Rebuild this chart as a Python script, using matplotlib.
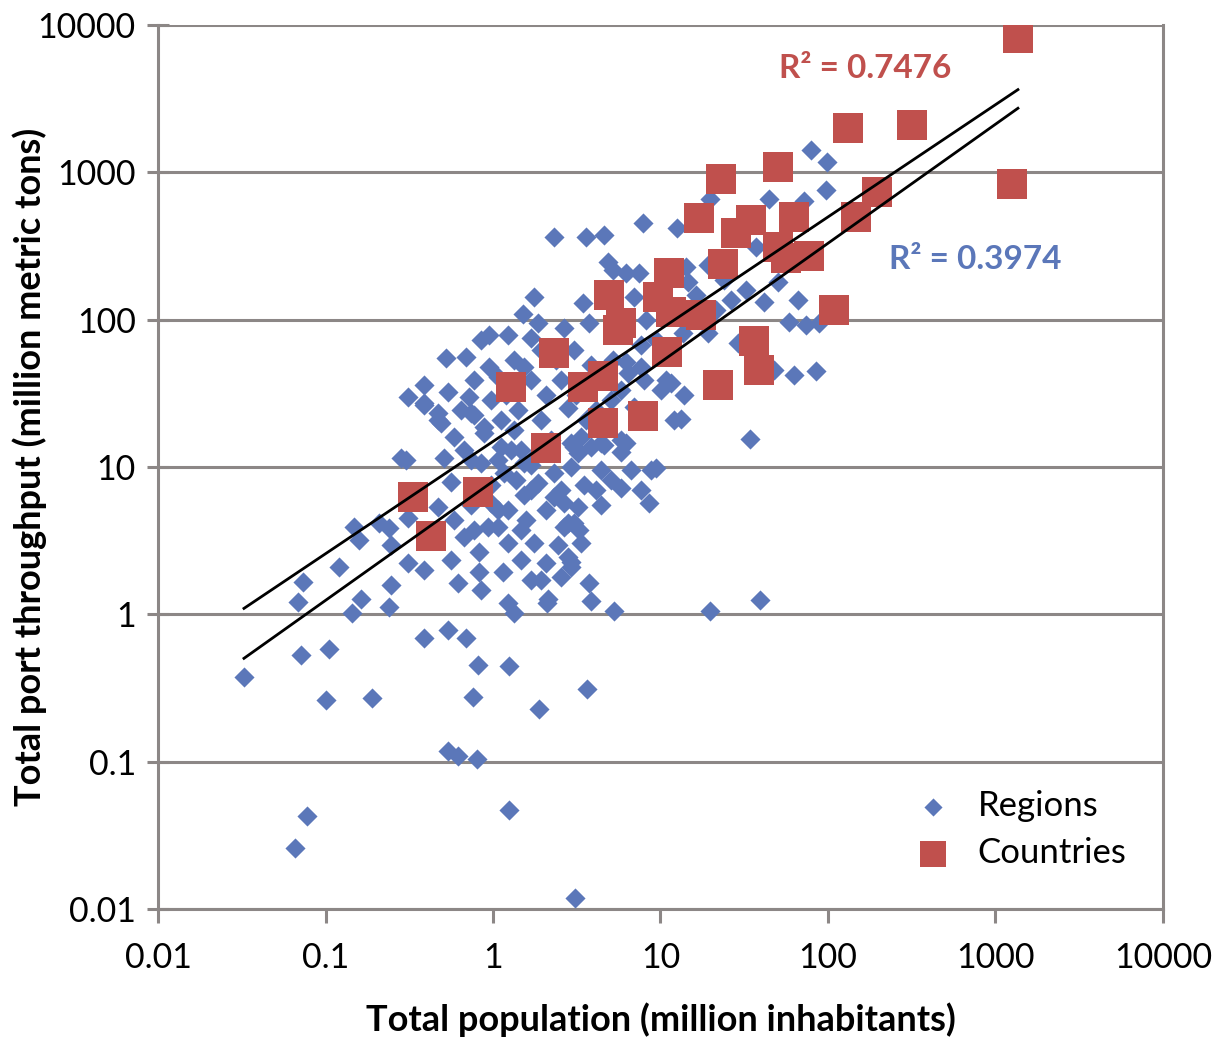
import matplotlib
matplotlib.use('Agg')
import matplotlib.pyplot as plt
import numpy as np
from matplotlib.ticker import FixedLocator, FuncFormatter, NullLocator

# Regions (blue diamonds): population (million) vs port throughput (million t)
regions_x = [
    0.0326, 0.0714, 0.105, 0.101, 0.190, 0.760, 0.0685, 0.0734, 0.120, 0.144,
    0.163, 0.148, 0.158, 0.209, 0.239, 0.246, 0.246, 0.239, 0.311, 0.311,
    0.388, 0.469, 0.303, 0.388, 0.539, 0.690, 0.814, 1.246, 1.883, 3.64,
    0.539, 0.618, 0.803, 1.246, 0.0776, 0.0658, 3.09, 0.561, 0.510, 0.585,
    0.469, 0.388, 0.561, 0.618, 0.825, 0.825, 0.671, 0.585, 0.739, 0.848,
    0.884, 0.739, 1.071, 0.973, 1.229, 1.335, 2.10, 3.85, 5.28, 9.40,
    5.81, 4.41, 8.54, 3.49, 2.65, 2.80, 3.26, 2.80, 2.92, 2.55,
    3.74, 19.8, 39.3, 34.2, 13.3, 62.7, 84.8, 47.6, 29.0, 11.6,
    13.8, 10.07, 6.22, 4.60, 3.22, 2.92, 3.85, 7.97, 6.40, 7.65,
    0.770, 0.934, 1.147, 1.229, 1.469, 1.071, 1.757, 2.07, 1.934, 2.13,
    2.92, 2.44, 3.35, 2.65, 3.05, 3.22, 2.31, 2.55, 1.686, 1.857,
    1.531, 1.229, 1.163, 1.531, 1.071, 2.31, 3.05, 4.41, 5.81, 8.77,
    2.31, 3.59, 4.60, 7.86, 4.86, 6.22, 7.44, 1.757, 1.51, 3.45,
    3.74, 1.857, 0.848, 0.946, 1.229, 1.686, 2.65, 0.524, 0.690, 0.946,
    1.335, 1.531, 3.05, 0.388, 0.311, 0.539, 0.388, 0.469, 0.719, 0.770,
    1.071, 1.686, 2.55, 0.489, 0.770, 0.884, 1.116, 1.410, 1.335, 1.116,
    1.469, 0.282, 0.671, 2.80, 3.35, 5.81, 6.95, 5.81, 12.0, 2.92,
    12.6, 19.8, 5.20, 14.2, 19.2, 14.6, 6.95, 16.3, 79.2, 98.6,
    97.3, 44.5, 71.9, 37.2, 50.3, 41.5, 66.2, 58.5, 73.9, 88.3,
    19.2, 13.6, 23.9, 6.22, 10.8, 4.12, 5.06, 3.59, 4.41, 5.20,
    3.85, 3.13, 32.4, 26.4, 21.4, 8.19, 9.40, 7.65, 1.934, 2.22,
    1.806, 2.07, 1.574, 1.372, 4.41, 5.06, 6.67, 7.65, 4.12, 0.644,
    0.973, 1.196, 2.07, 2.38, 1.934, 1.28, 1.686, 0.973, 0.739, 1.469,
    1.686, 0.848, 4.41,
]
regions_y = [
    0.374, 0.527, 0.579, 0.261, 0.269, 0.273, 1.22, 1.65, 2.08, 1.02,
    1.28, 3.90, 3.18, 4.15, 3.84, 2.94, 1.57, 1.12, 2.22, 4.48,
    1.99, 5.33, 11.1, 0.687, 0.779, 0.687, 0.451, 0.444, 0.226, 0.310,
    0.119, 0.109, 0.104, 0.0467, 0.0425, 0.0258, 0.0118, 7.87, 11.5, 15.9,
    20.8, 26.2, 2.33, 1.62, 1.93, 2.64, 3.33, 4.35, 11.1, 10.6,
    16.9, 23.2, 3.90, 5.67, 1.19, 1.02, 1.19, 1.24, 1.05, 9.80,
    7.17, 5.50, 5.67, 7.51, 5.67, 4.15, 3.72, 2.44, 2.08, 1.78,
    1.62, 1.06, 1.26, 15.4, 21.1, 42.0, 44.6, 45.3, 69.2, 37.0,
    30.7, 33.2, 14.5, 14.0, 12.4, 14.5, 13.6, 38.8, 43.3, 47.5,
    3.72, 3.90, 1.93, 3.03, 3.72, 5.08, 3.03, 2.22, 1.70, 1.28,
    2.25, 2.94, 3.03, 3.90, 4.15, 5.33, 6.23, 6.95, 6.95, 7.75,
    6.43, 5.08, 9.06, 10.6, 11.1, 9.06, 13.6, 14.5, 12.6, 9.50,
    363, 363, 374, 451, 245, 207, 207, 142, 110, 129,
    94.6, 94.6, 72.4, 78.4, 78.4, 74.8, 87.4, 54.7, 55.6, 47.5,
    53.0, 47.5, 62.0, 35.9, 29.7, 32.1, 27.1, 23.2, 29.7, 38.8,
    40.6, 38.8, 38.8, 19.8, 22.4, 18.6, 20.8, 24.3, 17.7, 13.6,
    13.0, 11.5, 13.0, 25.0, 15.9, 15.2, 25.4, 33.2, 20.8, 9.95,
    418, 657, 216, 227, 234, 179, 142, 146, 1413, 1171,
    756, 657, 637, 310, 179, 131, 135, 96.0, 91.6, 94.6,
    80.9, 80.9, 185, 51.4, 38.8, 24.3, 28.4, 20.8, 17.7, 53.0,
    49.0, 30.7, 158, 135, 116, 99.0, 72.4, 67.0, 20.8, 15.2,
    12.0, 5.08, 4.35, 8.12, 9.50, 8.12, 9.50, 6.95, 6.95, 24.3,
    28.4, 30.7, 30.7, 53.0, 62.0, 13.0, 10.3, 7.51, 5.50, 2.33,
    1.70, 1.46, 38.8,
]

# Countries (red squares)
countries_x = [1362, 132, 317, 50.3, 23.0, 196, 1255, 17.0, 34.7, 28.2,
               62.7, 147, 50.3, 77.0, 23.6, 11.2, 4.93, 9.66, 5.57, 11.6,
               17.5, 109, 36.2, 10.9, 38.7, 22.0, 2.31, 4.54, 3.45, 1.28,
               4.54, 7.86, 2.07, 0.333, 0.814, 0.426, 5.81, 56.1]
countries_y = [8130, 1990, 2090, 1083, 898, 732, 830, 488, 473, 386,
               496, 496, 310, 269, 238, 207, 146, 142, 84.7, 112,
               107, 116, 71.3, 60.1, 45.3, 35.9, 59.1, 41.3, 34.8, 34.8,
               19.8, 22.1, 13.4, 6.23, 6.73, 3.39, 94.6, 261]

# power-law trendlines y = a * x^b
trend_a = [14.9, 7.99]
trend_b = [0.762, 0.808]
r2_labels = ['R\u00b2 = 0.7476', 'R\u00b2 = 0.3974']
decades = [0.01, 0.1, 1, 10, 100, 1000, 10000]

blue = '#5B77B9'
red = '#C0504D'
grey = '#8C8786'

plt.rcParams['font.family'] = ['Lato', 'DejaVu Sans']

fig = plt.figure(figsize=(12.23, 10.38), dpi=100)
ax = fig.add_axes([0.1292, 0.1243, 0.8217, 0.8516])

ax.scatter(regions_x, regions_y, marker='D', s=105, color=blue, linewidths=0,
           label='Regions', zorder=3)
ax.scatter(countries_x, countries_y, marker='s', s=440, color=red, linewidths=0,
           label='Countries', zorder=4)

x_lo = min(min(regions_x), min(countries_x))
x_hi = max(max(regions_x), max(countries_x))
xs = np.logspace(np.log10(x_lo), np.log10(x_hi), 50)
for a, b in zip(trend_a, trend_b):
    ax.plot(xs, a * xs ** b, color='black', lw=2.0, zorder=5)

ax.text(51, 5090, r2_labels[0], color=red, fontsize=24, fontweight='bold',
        va='center', ha='left')
ax.text(231, 257, r2_labels[1], color=blue, fontsize=24, fontweight='bold',
        va='center', ha='left')

ax.set_xscale('log')
ax.set_yscale('log')
ax.set_xlim(0.01, 10000)
ax.set_ylim(0.01, 10000)
fmt = FuncFormatter(lambda v, p: '%g' % v)
ax.xaxis.set_major_locator(FixedLocator(decades))
ax.yaxis.set_major_locator(FixedLocator(decades))
ax.xaxis.set_major_formatter(fmt)
ax.yaxis.set_major_formatter(fmt)
ax.xaxis.set_minor_locator(NullLocator())
ax.yaxis.set_minor_locator(NullLocator())

ax.grid(axis='y', color=grey, lw=2.2)
ax.set_axisbelow(True)
for side in ['left', 'right', 'bottom']:
    ax.spines[side].set_color(grey)
    ax.spines[side].set_linewidth(2.2)
ax.spines['top'].set_visible(False)
ax.tick_params(axis='x', direction='out', length=10, width=2.2, color=grey,
               labelsize=24.5, pad=14)
ax.tick_params(axis='y', direction='inout', length=16, width=2.2, color=grey,
               labelsize=24.5, pad=8)

ax.set_xlabel('Total population (million inhabitants)', fontsize=26,
              fontweight='bold', labelpad=20)
ax.set_ylabel('Total port throughput (million metric tons)', fontsize=26,
              fontweight='bold')
ax.yaxis.set_label_coords(-0.11, 0.5)

ax.legend(loc='lower right', bbox_to_anchor=(0.995, 0.01), frameon=False,
          fontsize=25, handletextpad=0.3, labelspacing=0.42, markerscale=0.9)

fig.savefig('out.png', dpi=100)
